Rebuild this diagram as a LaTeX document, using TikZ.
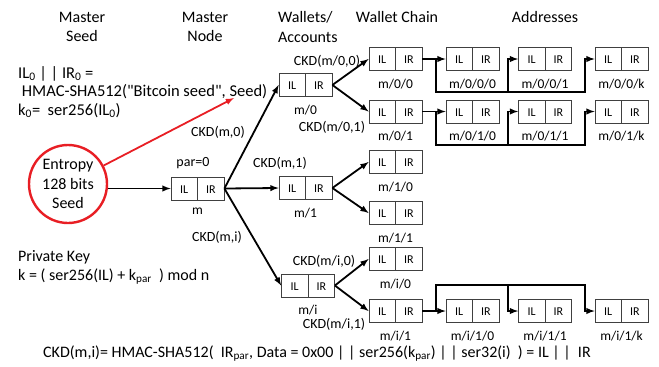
\documentclass[tikz,border=0pt]{standalone}
\usepackage{fontspec}
\setmainfont{Carlito}[Ligatures=TeXOff]
\usetikzlibrary{shapes.multipart}
\definecolor{seedred}{RGB}{232,30,36}
\tikzset{every node/.style={inner sep=0pt},
  key/.style={rectangle split,rectangle split horizontal,rectangle split parts=2,
    draw=black!75,line width=0.9pt,font=\fontsize{12}{14}\selectfont},
  every label/.style={font=\fontsize{13.5}{16}\selectfont,yshift=-7.5pt},
  ckd/.style={font=\fontsize{14}{16}\selectfont},
  big/.style={font=\fontsize{16}{19.5}\selectfont},
  link/.style={line width=1.8pt,>=latex}}
\newcommand{\kp}[1]{\makebox[26pt]{\rule[-7pt]{0pt}{23pt}#1}}
\newcommand{\ilir}{\kp{IL}\nodepart{two}\kp{IR}}

\begin{document}
\begin{tikzpicture}[x=1pt,y=-1pt]
      \useasboundingbox (0,0) rectangle (659,367);
      % headings
      \node[big,align=center] (hseed) at (82,27) {Master\\Seed};
      \node[big,align=center] (hnode) at (205,27) {Master\\Node};
      \node[big,align=left,anchor=west] (hacc) at (278,27) {Wallets/\\Accounts};
      \node[big] (hchain) at (397,17) {Wallet Chain};
      \node[big] (haddr) at (545,17) {Addresses};

      % text on the left
      \node[big,anchor=base west,font=\fontsize{16.5}{19.5}\selectfont] (t1) at (18,78) {IL\textsubscript{0} | | IR\textsubscript{0} =};
      \node[big,anchor=base west,font=\fontsize{16.5}{19.5}\selectfont] (t2) at (18,96) {\ HMAC-SHA512("Bitcoin seed", Seed)};
      \node[big,anchor=base west,font=\fontsize{16.5}{19.5}\selectfont] (t3) at (18,115) {k\textsubscript{0}=\ \ ser256(IL\textsubscript{0})};
      \node[big,anchor=base west] (t4) at (18,261) {Private Key};
      \node[big,anchor=base west] (t5) at (18,280) {k = ( ser256(IL) + k\textsubscript{par}\ \ ) mod n};
      \node[big,anchor=base west] (t6) at (43,357) {CKD(m,i)= HMAC-SHA512(\ \ IR\textsubscript{par}, Data = 0x00 | | ser256(k\textsubscript{par}) | | ser32(i)\ \ ) = IL | |\ \ IR};

      % seed and master node
      \node[big,circle,draw=seedred,line width=2.4pt,minimum size=78pt,align=center] (seed) at (68,184) {Entropy\\128 bits\\Seed};
      \coordinate (hmac) at (234,98);
      \node[key,label=below:m] (m) at (197.5,188.5) {\ilir};
      \node[ckd] (par) at (193,163) {par=0};

      % accounts
      \node[key,label=below:m/0] (m0) at (305.5,85) {\ilir};
      \node[key,label=below:m/1] (m1) at (305.5,188) {\ilir};
      \node[key,label=below:m/i] (mi) at (308,285.5) {\ilir};

      % wallet chains
      \node[key,label=below:m/0/0] (c00) at (395.5,59) {\ilir};
      \node[key,label=below:m/0/1] (c01) at (395.5,111.5) {\ilir};
      \node[key,label=below:m/1/0] (c10) at (395.5,162) {\ilir};
      \node[key,label=below:m/1/1] (c11) at (395.5,213) {\ilir};
      \node[key,label=below:m/i/0] (ci0) at (395.5,259) {\ilir};
      \node[key,label=below:m/i/1] (ci1) at (395.5,311) {\ilir};

      % addresses
      \node[key,label=below:m/0/0/0] (a000) at (472.5,59) {\ilir};
      \node[key,label=below:m/0/0/1] (a001) at (545,59) {\ilir};
      \node[key,label=below:m/0/0/k] (a00k) at (621.5,59) {\ilir};
      \node[key,label=below:m/0/1/0] (a010) at (472.5,111.5) {\ilir};
      \node[key,label=below:m/0/1/1] (a011) at (545,111.5) {\ilir};
      \node[key,label=below:m/0/1/k] (a01k) at (621.5,111.5) {\ilir};
      \node[key,label=below:m/i/1/0] (ai10) at (472.5,311) {\ilir};
      \node[key,label=below:m/i/1/1] (ai11) at (545,311) {\ilir};
      \node[key,label=below:m/i/1/k] (ai1k) at (621.5,311) {\ilir};

      % derivation labels
      \node[ckd] (k0) at (218,132) {CKD(m,0)};
      \node[ckd] (k1) at (280,163) {CKD(m,1)};
      \node[ckd] (ki) at (217,237) {CKD(m,i)};
      \node[ckd] (k00) at (327,61) {CKD(m/0,0)};
      \node[ckd] (k01) at (332,127) {CKD(m/0,1)};
      \node[ckd] (ki0) at (324,261) {CKD(m/i,0)};
      \node[ckd] (ki1) at (334,324) {CKD(m/i,1)};

      \draw[link,->,seedred] (seed) -- (hmac);
      \draw[link,->] (seed.east |- m) -- (m.west);
      \draw[link,->] (m.east) -- (m0.west);
      \draw[link,->] (m.east) -- (m1.west);
      \draw[link,->] (m.east) -- (mi.west);
      \draw[link,->] (m0.east) -- (c00.west);
      \draw[link,->] (m0.east) -- (c01.west);
      \draw[link,->] (m1.east) -- (c10.west);
      \draw[link,->] (m1.east) -- (c11.west);
      \draw[link,->] (mi.east) -- (ci0.west);
      \draw[link,->] (mi.east) -- (ci1.west);

      % address chains
      \draw[link,->] (c00.east) -- (a000.west);
      \draw[link,->] ([xshift=-10pt]a000.west) -- ++(0,33) -| ([xshift=-10pt]a00k.west) -- (a00k.west);
      \draw[link,->] ([xshift=-10pt]a001.west) ++(0,33) |- (a001.west);
      \draw[link,->] (c01.east) -- (a010.west);
      \draw[link,->] ([xshift=-10pt]a010.west) -- ++(0,33.5) -| ([xshift=-10pt]a01k.west) -- (a01k.west);
      \draw[link,->] ([xshift=-10pt]a011.west) ++(0,33.5) |- (a011.west);
      \draw[link,->] (ci1.east) -- (ai10.west);
      \draw[link,->] ([xshift=-10pt]ai10.west) -- ++(0,-26) -| ([xshift=-10pt]ai1k.west) -- (ai1k.west);
      \draw[link,->] ([xshift=-10pt]ai11.west) ++(0,-26) |- (ai11.west);
    \end{tikzpicture}
\end{document}
